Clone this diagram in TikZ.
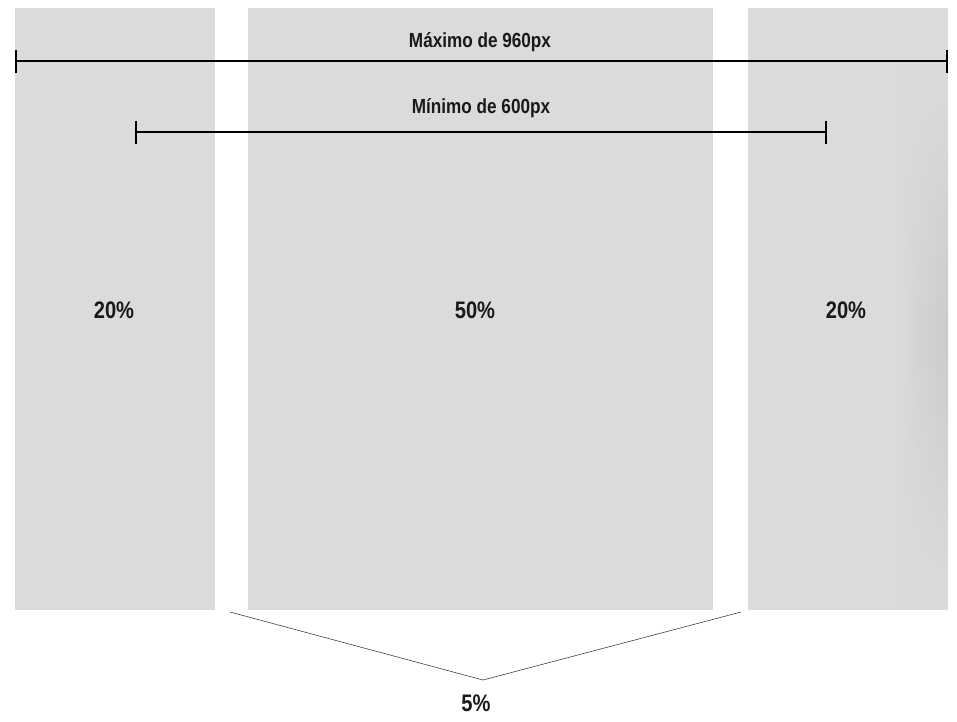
\documentclass[tikz,border=0pt]{standalone}
\usepackage{fontspec}
\newfontfamily\condfont[FakeStretch=0.84]{Liberation Sans}
\usetikzlibrary{shadings,fadings}
\definecolor{colgray}{RGB}{220,218,221}
\definecolor{shadegray}{RGB}{204,202,205}
\tikzfading[name=vfade, top color=transparent!100, bottom color=transparent!100, middle color=transparent!0]
\tikzset{
  column/.style={fill=colgray, draw=none},
  dimline/.style={line width=1.8pt, black},
  tickline/.style={line width=2.2pt, black},
  vline/.style={line width=0.6pt, black!75},
  dimlabel/.style={font=\condfont\bfseries\fontsize{20.5}{24}\selectfont, inner sep=0pt, text=black!90},
  pctlabel/.style={font=\condfont\bfseries\fontsize{24}{28}\selectfont, inner sep=0pt, text=black!90},
}
\begin{document}
\begin{tikzpicture}[x=1bp,y=-1bp]
\useasboundingbox (0,0) rectangle (957,722);
\fill[white] (0,0) rectangle (957,722);
% columns
\fill[column] (15,8) rectangle (215,610);
\fill[column] (248,8) rectangle (713,610);
\fill[column] (748,8) rectangle (948,610);
% subtle shadow on right column
\shade[left color=colgray, right color=shadegray, draw=none, path fading=vfade] (895,70) rectangle (948,600);
% max line
\coordinate (maxL) at (16,61);
\coordinate (maxR) at (947,61);
\draw[dimline] (maxL) -- (maxR);
\draw[tickline] (16,50) -- (16,73);
\draw[tickline] (947,50) -- (947,73);
\node[dimlabel] (maxlab) at (480,42) {Máximo de 960px};
% min line
\coordinate (minL) at (136,132);
\coordinate (minR) at (826,132);
\draw[dimline] (minL) -- (minR);
\draw[tickline] (136,121) -- (136,144);
\draw[tickline] (826,121) -- (826,144);
\node[dimlabel] (minlab) at (481,108) {Mínimo de 600px};
% percentages
\node[pctlabel] (p1) at (114,310) {20\%};
\node[pctlabel] (p2) at (475,310) {50\%};
\node[pctlabel] (p3) at (846,310) {20\%};
% gutter bracket
\coordinate (vl) at (230,612);
\coordinate (vm) at (483,680);
\coordinate (vr) at (741,612);
\draw[vline] (vl) -- (vm) -- (vr);
\node[pctlabel] (p5) at (476,703) {5\%};
\end{tikzpicture}
\end{document}
